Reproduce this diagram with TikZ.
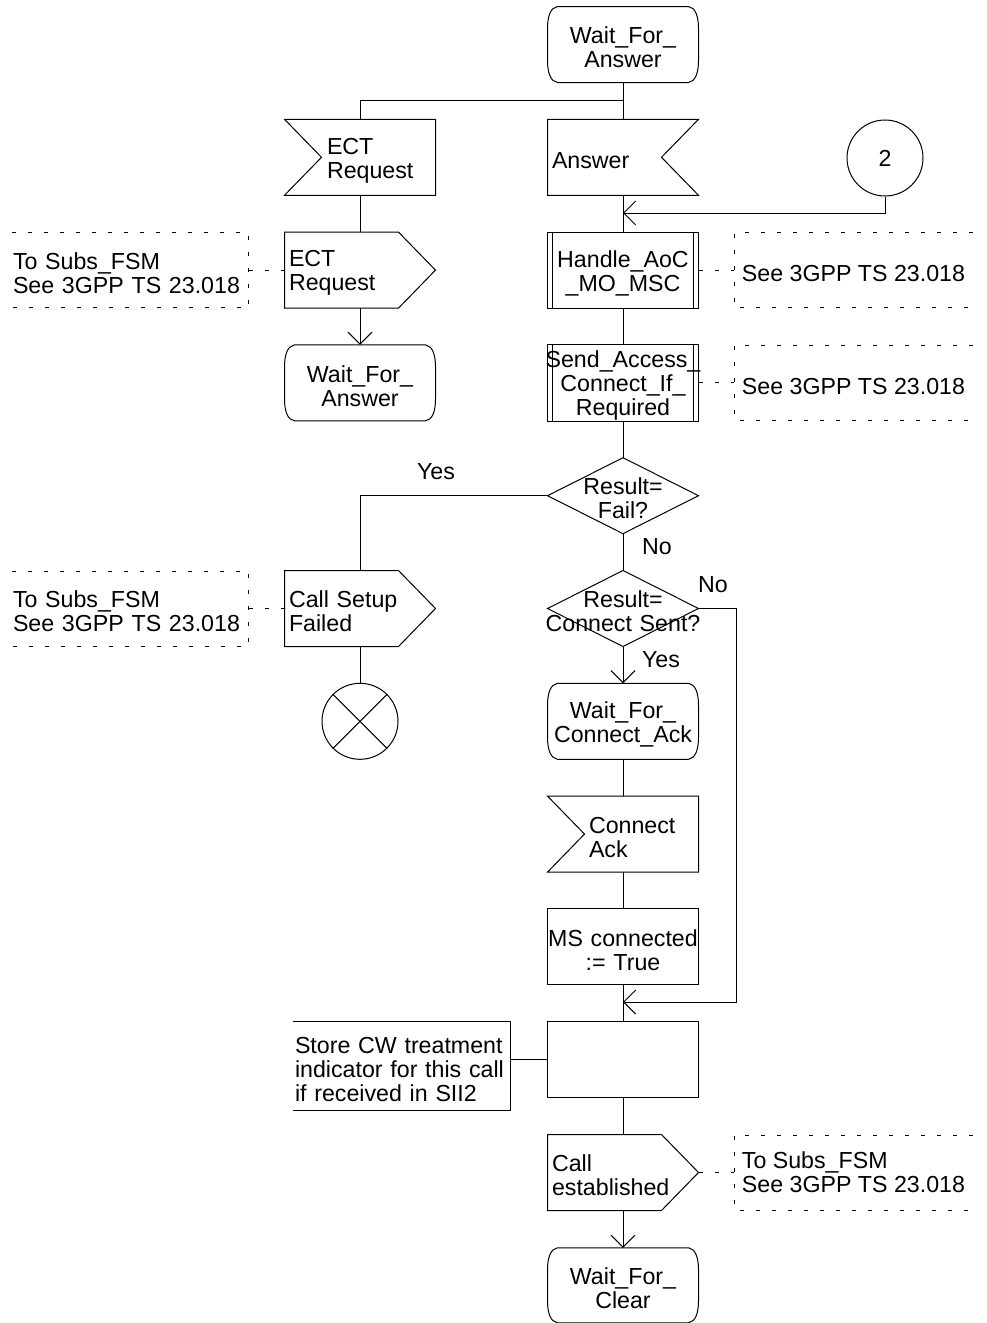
\documentclass[tikz,border=0pt]{standalone}
\usepackage{fontspec}
\setmainfont{Liberation Sans}
\usetikzlibrary{arrows.meta,calc}
\newcommand\stateshape[1]{\draw ($(#1.north west)+(10,0)$) -- ($(#1.north east)+(-10,0)$) .. controls ($(#1.north east)+(-3,1)$) and ($(#1.north east)+(0,10)$) .. ($(#1.north east)+(0,22)$) -- ($(#1.south east)+(0,-22)$) .. controls ($(#1.south east)+(0,-10)$) and ($(#1.south east)+(-3,-1)$) .. ($(#1.south east)+(-10,0)$) -- ($(#1.south west)+(10,0)$) .. controls ($(#1.south west)+(3,-1)$) and ($(#1.south west)+(0,-10)$) .. ($(#1.south west)+(0,-22)$) -- ($(#1.north west)+(0,22)$) .. controls ($(#1.north west)+(0,10)$) and ($(#1.north west)+(3,1)$) .. cycle;}
\newcommand\inputL[1]{\draw (#1.north west) -- (#1.north east) -- (#1.south east) -- (#1.south west) -- ($(#1.west)+(37,0)$) -- cycle;}
\newcommand\inputR[1]{\draw (#1.north east) -- (#1.north west) -- (#1.south west) -- (#1.south east) -- ($(#1.east)+(-37,0)$) -- cycle;}
\newcommand\outputsig[1]{\draw (#1.north west) -- ($(#1.north east)+(-37,0)$) -- (#1.east) -- ($(#1.south east)+(-37,0)$) -- (#1.south west) -- cycle;}
\newcommand\procbox[1]{\draw (#1.north west) rectangle (#1.south east); \draw ($(#1.north west)+(5,0)$) -- ($(#1.south west)+(5,0)$); \draw ($(#1.north east)+(-5,0)$) -- ($(#1.south east)+(-5,0)$);}
\newcommand\decision[1]{\draw (#1.north) -- (#1.east) -- (#1.south) -- (#1.west) -- cycle;}
\newcommand\commentL[1]{\draw[dsh] (#1.north west) -- (#1.north east) -- (#1.south east) -- (#1.south west);}
\newcommand\commentR[1]{\draw[dsh] (#1.north east) -- (#1.north west) -- (#1.south west) -- (#1.south east);}
\tikzset{
  lbl/.style={font=\fontsize{23.2pt}{24pt}\selectfont, inner sep=0pt},
  dn/.style={execute at begin node={\rule{0pt}{22.5pt}}},
  box/.style={lbl, dn, rectangle, minimum width=150pt, minimum height=75pt, text width=150pt, align=center},
  lbox/.style={lbl, dn, rectangle, minimum width=150pt, minimum height=75pt, text width=142pt, inner xsep=4pt, align=left},
  cmtl/.style={lbl, dn, rectangle, minimum height=74pt, text width=234pt, inner xsep=1pt, align=left},
  cmtr/.style={lbl, dn, rectangle, anchor=west, minimum height=74pt, minimum width=238pt, inner xsep=7pt, align=left},
  circ/.style={lbl, circle, minimum size=76pt, draw},
  arr/.style={-{Straight Barb[length=12pt,width=24pt]}},
  dsh/.style={dash pattern=on 4pt off 12pt}
}
\begin{document}
\begin{tikzpicture}[x=1pt,y=-1pt,line width=1pt]
\useasboundingbox (0,0) rectangle (986,1323);
% nodes
\node[box] (wfa) at (623,44.5) {Wait\_For\_\\Answer};
\node[lbox] (ectin) at (360,157.3) {\hspace*{38pt}ECT\\\hspace*{38pt}Request};
\node[lbox] (ans) at (623,157.3) {Answer};
\node[circ] (c2) at (885,158) {2};
\node[lbox] (ectout) at (360,270.1) {ECT\\Request};
\node[cmtl] (cm1) at (130,270.1) {To Subs\_FSM\\See 3GPP TS 23.018};
\node[box] (hand) at (623,270.1) {Handle\_AoC\\\_MO\_MSC};
\node[cmtr] (cm2) at (734,270.1) {See 3GPP TS 23.018};
\node[box] (wfa2) at (360,382.9) {Wait\_For\_\\Answer};
\node[box] (send) at (623,382.9) {\makebox[150pt]{Send\_Access\_}\\Connect\_If\_\\Required};
\node[cmtr] (cm3) at (734,382.9) {See 3GPP TS 23.018};
\node[box] (d1) at (623,495.7) {Result=\\Fail?};
\node[lbox] (csf) at (360,608.5) {Call Setup\\Failed};
\node[cmtl] (cm4) at (130,608.5) {To Subs\_FSM\\See 3GPP TS 23.018};
\node[box] (d2) at (623,608.5) {Result=\\\makebox[150pt]{Connect Sent?}};
\node[circ] (stop) at (360,721.3) {};
\node[box] (wfca) at (623,721.3) {Wait\_For\_\\Connect\_Ack};
\node[lbox] (cack) at (623,834.1) {\hspace*{37pt}Connect\\\hspace*{37pt}Ack};
\node[box] (msc) at (623,946.9) {\makebox[150pt]{MS connected}\\:= True};
\node[box] (task) at (623,1059.7) {};
\node[lbl, dn, rectangle, text width=213pt, inner xsep=2pt, minimum height=88pt, align=left] (note) at (401.5,1066) {Store CW treatment\\indicator for this call\\if received in SII2};
\node[lbox] (ce) at (623,1172.5) {Call\\established};
\node[cmtr] (cm5) at (734,1172.5) {To Subs\_FSM\\See 3GPP TS 23.018};
\node[box, minimum height=74pt] (wfc) at (623,1285.3) {Wait\_For\_\\Clear};
% labels
\node[lbl] (yes1) at (436,472) {Yes};
\node[lbl] (no1) at (657,547) {No};
\node[lbl] (no2) at (713,585) {No};
\node[lbl] (yes2) at (661,660) {Yes};
% outlines
\stateshape{wfa} \stateshape{wfa2} \stateshape{wfca} \stateshape{wfc}
\inputL{ectin} \inputR{ans} \inputL{cack}
\outputsig{ectout} \outputsig{csf} \outputsig{ce}
\procbox{hand} \procbox{send}
\draw (msc.north west) rectangle (msc.south east);
\draw (task.north west) rectangle (task.south east);
\decision{d1} \decision{d2}
\commentL{cm1} \commentL{cm4}
\commentR{cm2} \commentR{cm3} \commentR{cm5}
\draw (note.north west) -- (note.north east) -- (note.south east) -- (note.south west);
\draw (stop.north west) -- (stop.south east);
\draw (stop.north east) -- (stop.south west);
% connectors
\coordinate (j1) at (623,100);
\coordinate (j2) at (623,213);
\coordinate (r1) at (736,1002);
\coordinate (j3) at (623,1002);
\draw (wfa.south) -- (ans.north);
\draw (ectin.north) |- (j1);
\draw (ectin.south) -- (ectout.north);
\draw[arr] (ectout.south) -- (wfa2.north);
\draw (ans.south) -- (hand.north);
\draw[arr] (c2.south) |- (j2);
\draw (hand.south) -- (send.north);
\draw (send.south) -- (d1.north);
\draw (d1.west) -| (csf.north);
\draw (d1.south) -- (d2.north);
\draw (csf.south) -- (stop.north);
\draw[arr] (d2.south) -- (wfca.north);
\draw (wfca.south) -- (cack.north);
\draw (cack.south) -- (msc.north);
\draw (msc.south) -- (task.north);
\draw[arr] (d2.east) -| (r1) -- (j3);
\draw (task.west) -- (task.west -| note.east);
\draw (task.south) -- (ce.north);
\draw[arr] (ce.south) -- (wfc.north);
\draw[dsh] (cm1.east) -- (ectout.west);
\draw[dsh] (hand.east) -- (cm2.west);
\draw[dsh] (send.east) -- (cm3.west);
\draw[dsh] (cm4.east) -- (csf.west);
\draw[dsh] (ce.east) -- (cm5.west);
\end{tikzpicture}
\end{document}
